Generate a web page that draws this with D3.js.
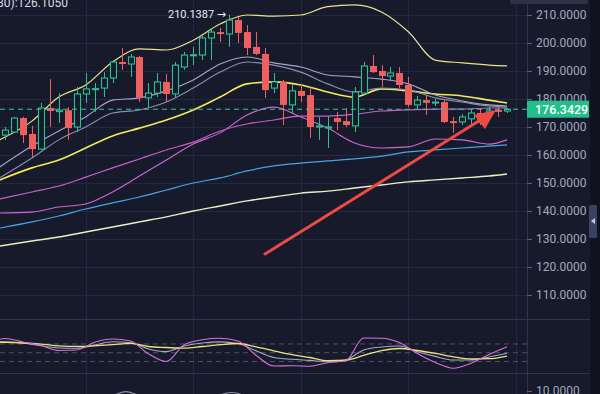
<!DOCTYPE html>
<meta charset="utf-8">
<style>
body { margin:0; background:#161a2b; overflow:hidden; }
text { font-family: Roboto, "DejaVu Sans", sans-serif; }
</style>
<body>
<script src="https://cdn.jsdelivr.net/npm/d3@7"></script>
<script>

var width = 600,
    height = 394;

// candles, one per bar
var opens  = [167.1,168.2,173.2,167.5,162.1,176.8,175.5,176.0,170.0,181.8,183.5,183.9,187.5,193.2,192.5,195.0,180.4,182.1,186.1,181.8,
              191.4,195.6,195.7,201.8,203.9,203.2,208.2,203.9,198.6,196.1,183.9,186.1,177.9,182.9,181.4,170.0,169.6,173.2,172.1,170.4,
              182.1,191.8,190.0,188.2,189.3,185.0,177.9,179.6,178.6,178.9,172.1,171.8,172.9,175.0,175.0,176.1,175.7];
var highs  = [170.0,173.6,173.6,170.4,178.6,187.1,182.1,177.1,184.3,189.3,185.7,189.6,193.9,198.2,196.1,195.4,185.7,189.3,188.9,193.2,
              196.8,198.6,202.9,205.4,205.4,210.1387,209.3,206.4,203.9,198.2,189.3,186.8,185.4,185.4,184.3,173.6,173.9,175.4,176.8,184.3,
              193.2,195.7,192.1,191.4,191.4,187.9,181.1,181.4,180.0,180.0,173.6,174.6,176.1,176.8,177.1,177.1,176.8];
var lows   = [165.4,167.9,164.3,159.3,161.8,170.0,171.4,165.4,168.2,178.6,175.4,180.7,185.7,190.4,187.9,178.9,177.1,180.7,178.9,180.7,
              190.4,192.1,193.9,193.9,200.4,198.6,200.0,195.7,195.7,180.4,182.1,170.7,175.0,178.9,166.1,165.4,162.5,168.9,170.0,168.2,
              181.4,189.3,184.3,186.8,183.9,177.1,176.4,174.3,177.5,171.4,167.9,170.7,170.7,170.7,172.5,173.6,175.0];
var closes = [168.9,173.2,167.1,162.1,176.8,175.7,176.0,169.6,181.8,183.6,183.7,187.5,193.2,192.5,195.0,180.4,182.1,186.1,181.8,192.1,
              195.7,195.8,201.8,203.9,203.2,208.2,203.6,198.2,196.1,183.2,186.1,177.9,182.9,181.1,170.0,170.4,170.0,171.8,170.7,182.5,
              191.8,189.6,188.2,189.3,185.0,177.9,179.6,178.6,178.9,171.8,171.4,173.6,175.0,171.4,175.7,175.4,176.3429];

// overlay lines, sampled at these bar positions
var lineIdx   = [-0.6,3,6,9,12,15,18,21,24,27,30,33,36,39,42,45,48,51,54,56];
var upperBand = [165.4,172.1,180.7,185.0,193.2,197.9,197.5,201.0,206.8,210.0,209.6,210.0,213.0,213.6,211.1,204.0,193.9,192.9,192.1,191.8];
var maGray1   = [155.7,163.2,168.6,173.6,179.6,180.4,182.9,186.8,192.5,195.0,192.9,191.4,188.6,187.9,187.1,185.4,181.4,179.3,177.9,177.5];
var maGray2   = [151.8,158.9,165.4,170.0,175.0,176.1,178.9,183.9,189.6,193.2,192.1,189.6,185.4,182.5,183.9,183.2,180.4,178.9,177.5,177.1];
var maYellow  = [151.1,155.4,158.2,162.5,166.8,169.6,172.5,176.1,180.7,185.4,186.1,185.0,182.5,180.7,183.6,182.9,181.8,181.1,179.6,178.6];
var maPink    = [144.3,146.8,148.9,152.1,155.4,158.6,161.8,164.6,168.6,171.1,172.5,173.9,173.9,174.6,175.7,176.1,176.4,176.4,176.8,176.8];
var lowerBand = [139.3,139.6,141.4,142.5,146.8,152.5,158.2,163.9,167.9,174.3,177.1,173.6,169.6,164.3,162.5,162.9,165.7,165.4,163.9,165.4];
var maBlue    = [133.9,136.1,138.2,140.7,142.9,145.0,147.5,150.0,151.8,154.3,156.1,157.1,157.9,158.6,159.6,161.1,161.8,162.5,163.2,163.6];
var maCream   = [127.5,129.3,130.7,132.5,134.3,136.1,137.9,140.0,141.8,143.6,145.0,146.4,147.1,148.2,149.3,150.4,151.1,151.8,152.5,153.2];

// oscillator panel
var kdjIdx = [-0.6,0,2,4,6,8,10,12,14,16,18,20,22,24,26,28,30,32,34,36,38,40,42,44,46,48,50,52,54,56];
var kdjJ = [96,98.7,86.7,74.7,57.6,59.3,85.7,97,90.2,46.3,19.9,77.8,94.6,99.4,90.2,41.1,4.5,5.1,3.8,15.8,21.6,100.4,99.8,85,47.3,16.5,-3.4,14.1,43.9,70.6];
var kdjD = [87.8,87.8,83.3,73.7,66.2,65.1,76.4,87.4,84.3,62.7,53.8,73,83.3,87.1,81.6,56.6,33.6,27.4,23.7,19.2,25,59.3,69.6,73,53.1,37.4,25,25,35.3,48];
var kdjK = [85.7,85.4,83.3,79.5,73.4,71.6,73.4,77.5,82.3,71.3,67.9,65.5,71.3,77.5,81.6,70.3,56.6,43.5,33.6,22.6,24.3,40.8,57.3,64.5,57.6,47.7,36,28.5,29.5,38.7];
var kdjLevels = [20, 50, 80];

// bottom panel, only the tops show
var botIdx = [8,10,11.5,13.5,15.5,17,20,22,23.5,25.3,27,28.5,31];
var botVal = [4,5,7.5,9.8,7.5,5,4,5,8,9.5,8,5,4];

var priceTicks = [110,120,130,140,150,160,170,180,190,200,210];
var gridIdx = [9,21,33,45,57];
var lastPrice = 176.3429;

var plotRight = 527;

var x = d3.scaleLinear().domain([0, 56]).range([5, 507]);
var y = d3.scaleLinear().domain([110, 210]).range([295, 15]);
var yk = d3.scaleLinear().domain([-19.5, 165.6]).range([373, 319]);
var yb = d3.scaleLinear().domain([0, 10]).range([420, 391]);

var svg = d3.select("body").append("svg")
    .attr("width", width)
    .attr("height", height);

svg.append("rect").attr("width", width).attr("height", height).attr("fill", "#161a2b");

var defs = svg.append("defs");
defs.append("clipPath").attr("id", "clipMain")
  .append("rect").attr("x", 0).attr("y", 0).attr("width", plotRight).attr("height", 319);
defs.append("clipPath").attr("id", "clipK")
  .append("rect").attr("x", 0).attr("y", 320).attr("width", plotRight).attr("height", 52);
defs.append("clipPath").attr("id", "clipB")
  .append("rect").attr("x", 0).attr("y", 374).attr("width", plotRight).attr("height", 20);

// grid
svg.append("g").selectAll("line").data(priceTicks).enter().append("line")
    .attr("x1", 0).attr("x2", plotRight)
    .attr("y1", function(d) { return Math.round(y(d)) + 0.5; })
    .attr("y2", function(d) { return Math.round(y(d)) + 0.5; })
    .attr("stroke", "#222742");
svg.append("g").selectAll("line").data(gridIdx).enter().append("line")
    .attr("x1", function(d) { return Math.round(x(d)) + 0.5; })
    .attr("x2", function(d) { return Math.round(x(d)) + 0.5; })
    .attr("y1", 0).attr("y2", height)
    .attr("stroke", "#222742");

// panel separators
[319.5, 373.5].forEach(function(v) {
  svg.append("line").attr("x1", 0).attr("x2", 590).attr("y1", v).attr("y2", v)
    .attr("stroke", "#2e3552");
});

// oscillator levels
svg.append("g").selectAll("line").data(kdjLevels).enter().append("line")
    .attr("x1", 0).attr("x2", plotRight)
    .attr("y1", function(d) { return yk(d); })
    .attr("y2", function(d) { return yk(d); })
    .attr("stroke", "#4c526c")
    .attr("stroke-dasharray", "5,4");

// overlay lines
var main = svg.append("g").attr("clip-path", "url(#clipMain)");

function drawLine(g, xs, vals, yScale, color, w) {
  var line = d3.line()
      .x(function(d, i) { return x(xs[i]); })
      .y(function(d) { return yScale(d); })
      .curve(d3.curveMonotoneX);
  g.append("path")
      .datum(vals)
      .attr("fill", "none")
      .attr("stroke", color)
      .attr("stroke-width", w)
      .attr("d", line);
}

drawLine(main, lineIdx, maCream, y, "#ecefc2", 1.4);
drawLine(main, lineIdx, maBlue, y, "#4aa3e2", 1.2);
drawLine(main, lineIdx, lowerBand, y, "#cf68d2", 1.1);
drawLine(main, lineIdx, maPink, y, "#c65fc8", 1.1);
drawLine(main, lineIdx, maYellow, y, "#f3ea5c", 1.6);
drawLine(main, lineIdx, maGray2, y, "#8a8fb0", 1.1);
drawLine(main, lineIdx, maGray1, y, "#a4a8c8", 1.1);
drawLine(main, lineIdx, upperBand, y, "#e9e48e", 1.2);

// current price line
svg.append("line")
    .attr("x1", 0).attr("x2", plotRight)
    .attr("y1", y(lastPrice)).attr("y2", y(lastPrice))
    .attr("stroke", "#35c49e")
    .attr("stroke-width", 1)
    .attr("stroke-dasharray", "5,4");

// candles
var candles = main.selectAll("g.candle")
    .data(d3.range(opens.length))
  .enter().append("g")
    .attr("class", "candle");

var upColor = "#2fc092",
    downColor = "#ee6060";

candles.each(function(i) {
  var g = d3.select(this),
      up = closes[i] >= opens[i],
      cx = Math.round(x(i)) + 0.5,
      top = y(Math.max(opens[i], closes[i])),
      bot = y(Math.min(opens[i], closes[i])),
      col = up ? upColor : downColor;
  if (bot - top < 1) bot = top + 1;
  if (up) {
    g.append("line").attr("x1", cx).attr("x2", cx).attr("y1", y(highs[i])).attr("y2", top).attr("stroke", col);
    g.append("line").attr("x1", cx).attr("x2", cx).attr("y1", bot).attr("y2", y(lows[i])).attr("stroke", col);
    g.append("rect").attr("x", cx - 3).attr("y", top).attr("width", 6).attr("height", bot - top)
      .attr("fill", "#161a2b").attr("stroke", col).attr("stroke-width", 1.1);
  } else {
    g.append("line").attr("x1", cx).attr("x2", cx).attr("y1", y(highs[i])).attr("y2", y(lows[i])).attr("stroke", col);
    g.append("rect").attr("x", cx - 3.5).attr("y", top).attr("width", 7).attr("height", bot - top)
      .attr("fill", col);
  }
});

// oscillator lines
var kg = svg.append("g").attr("clip-path", "url(#clipK)");
drawLine(kg, kdjIdx, kdjD, yk, "#a6aac6", 1.1);
drawLine(kg, kdjIdx, kdjK, yk, "#eee27a", 1.3);
drawLine(kg, kdjIdx, kdjJ, yk, "#d872d8", 1.1);

var bg = svg.append("g").attr("clip-path", "url(#clipB)");
drawLine(bg, botIdx, botVal, yb, "#8a8fa8", 1.1);

// high marker
var hiIdx = highs.indexOf(d3.max(highs));
svg.append("text")
    .attr("x", x(hiIdx) - 3)
    .attr("y", 18)
    .attr("text-anchor", "end")
    .attr("fill", "#e8eaf2")
    .attr("font-size", 11)
    .text(d3.max(highs).toFixed(4) + " \u2192");

// red arrow drawn on top
svg.append("line")
    .attr("x1", 265).attr("y1", 254)
    .attr("x2", 482).attr("y2", 119)
    .attr("stroke", "#ec4a44")
    .attr("stroke-width", 3)
    .attr("stroke-linecap", "round");
svg.append("path")
    .attr("d", "M496,110 L474,115 L485,129 Z")
    .attr("fill", "#ec4a44");

// right axis
svg.append("line").attr("x1", plotRight + 0.5).attr("x2", plotRight + 0.5)
    .attr("y1", 0).attr("y2", height).attr("stroke", "#2e3552");

var axis = svg.append("g")
    .attr("transform", "translate(" + plotRight + ",0)")
    .call(d3.axisRight(y).tickValues(priceTicks).tickSize(5).tickPadding(4)
      .tickFormat(d3.format(".4f")));
axis.select(".domain").remove();
axis.selectAll("line").attr("stroke", "#5a6080");
axis.selectAll("text").attr("fill", "#a3a8bd").attr("font-size", 12)
    .attr("font-family", "Roboto, sans-serif");

var axisB = svg.append("g")
    .attr("transform", "translate(" + plotRight + ",0)")
    .call(d3.axisRight(yb).tickValues([10]).tickSize(5).tickPadding(4)
      .tickFormat(d3.format(".4f")));
axisB.select(".domain").remove();
axisB.selectAll("line").attr("stroke", "#5a6080");
axisB.selectAll("text").attr("fill", "#a3a8bd").attr("font-size", 12)
    .attr("font-family", "Roboto, sans-serif");

// price box over the axis
svg.append("rect")
    .attr("x", plotRight).attr("y", y(lastPrice) - 8.5)
    .attr("width", 62).attr("height", 17)
    .attr("fill", "#22bf8c");
svg.append("text")
    .attr("x", plotRight + 8).attr("y", y(lastPrice) + 4.5)
    .attr("fill", "#ffffff")
    .attr("font-size", 12.5)
    .attr("font-weight", 500)
    .text(lastPrice.toFixed(4));

// right strip and tab
svg.append("rect").attr("x", 590).attr("y", 0).attr("width", 10).attr("height", height).attr("fill", "#10131f");
svg.append("rect").attr("x", 589).attr("y", 205).attr("width", 8).attr("height", 33).attr("rx", 1.5).attr("fill", "#3b4160");
svg.append("path").attr("d", "M591,221 L595,218 L595,224 Z").attr("fill", "#c8cce0");

// top widgets
svg.append("rect").attr("x", 510).attr("y", -3).attr("width", 78).attr("height", 7).attr("rx", 2).attr("fill", "#2e3249");
svg.append("text")
    .attr("x", -3).attr("y", 7)
    .attr("fill", "#d6d9e6")
    .attr("font-size", 12)
    .text("80):126.1050");

</script>
